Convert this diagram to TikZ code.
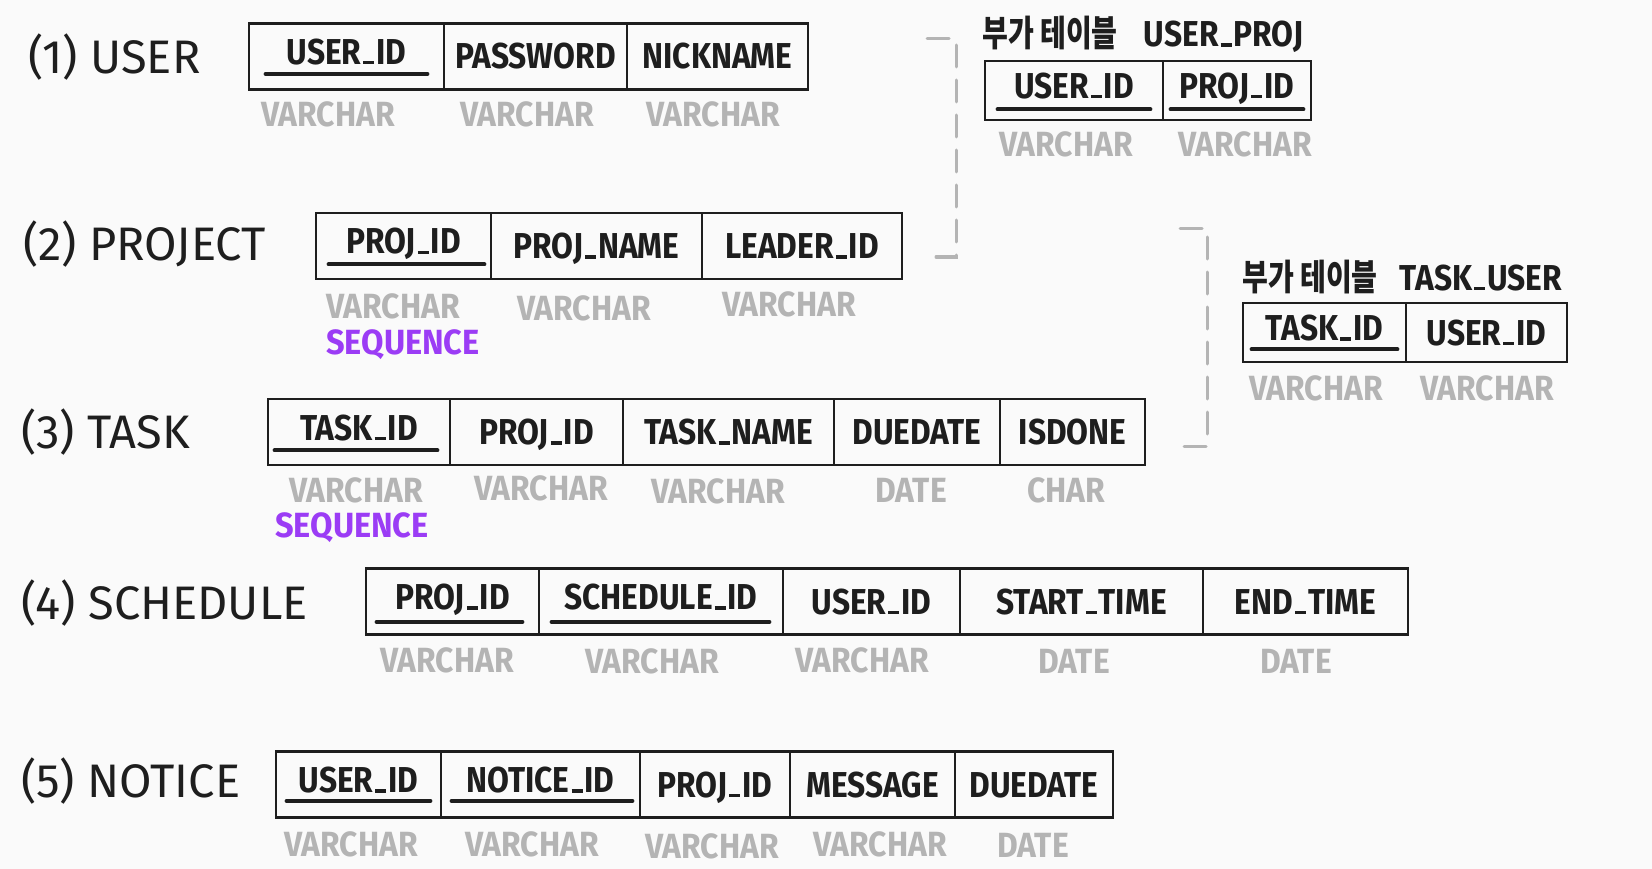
\documentclass[tikz,border=0pt]{standalone}
\usepackage{fontspec}
\usepackage{graphicx}
\setmainfont{Fira Sans}
\newfontfamily\hand[FakeStretch=0.88]{Fira Sans}
\newfontfamily\handt[FakeStretch=0.91]{Fira Sans}
\newfontfamily\hands[FakeStretch=0.93]{Fira Sans}
\newfontfamily\kr[FakeStretch=0.78]{Noto Sans CJK KR}
\definecolor{ink}{RGB}{30,30,30}
\definecolor{lgray}{RGB}{180,180,180}
\definecolor{bgc}{RGB}{250,250,250}
\definecolor{purp}{RGB}{155,60,245}
\newcommand\us{\kern2pt\rule[0pt]{11pt}{3.5pt}\kern2pt}
\begin{document}
\begin{tikzpicture}[x=1pt,y=-1pt,
  fld/.style={draw=ink, line width=2.8pt, minimum width=#1, minimum height=66pt, inner sep=0pt,
    text height=25pt, text depth=0pt, text=ink, font=\hand\bfseries\fontsize{36}{36}\selectfont},
  sfld/.style={fld=#1, minimum height=59pt},
  pk/.style={text depth=9pt},
  typ/.style={text=lgray, inner sep=0pt, text height=24pt, text depth=0pt, font=\handt\bfseries\fontsize{35}{35}\selectfont},
  seq/.style={text=purp, inner sep=0pt, text height=23pt, text depth=0pt, font=\hands\bfseries\fontsize{35}{35}\selectfont},
  head/.style={anchor=base west, inner sep=0pt, text=ink, font=\fontsize{47}{47}\selectfont},
  ttl/.style={anchor=base west, inner sep=0pt, text=ink, font=\hand\bfseries\fontsize{36}{36}\selectfont},
  uline/.style={draw=ink, line width=4pt, line cap=round},
  brk/.style={draw=lgray, line width=3pt, line cap=round, dash pattern=on 22pt off 13pt}]
\fill[bgc] (0,0) rectangle (1652,869);
\useasboundingbox (0,0) rectangle (1652,869);

% (1) USER
\node[head] (h1) at (28,74) {(1) USER};
\node[fld=195, pk] (u1) at (346.5,56.5) {USER\us ID};
\node[fld=183] (u2) at (535.5,56.5) {PASSWORD};
\node[fld=181] (u3) at (717.5,56.5) {NICKNAME};
\draw[uline] ([shift={(18,-17)}]u1.south west) -- ([shift={(-18,-17)}]u1.south east);
\node[typ] (u1t) at (328,115) {VARCHAR};
\node[typ] (u2t) at (527,115) {VARCHAR};
\node[typ] (u3t) at (713,115) {VARCHAR};

% (2) PROJECT
\node[head] (h2) at (23,261) {(2) PROJECT};
\node[fld=175, pk] (p1) at (403.5,246) {PROJ\us ID};
\node[fld=211] (p2) at (596.5,246) {PROJ\us NAME};
\node[fld=200] (p3) at (802,246) {LEADER\us ID};
\draw[uline] ([shift={(14,-16)}]p1.south west) -- ([shift={(-8,-16)}]p1.south east);
\node[typ] (p1t) at (393,306) {VARCHAR};
\node[typ] (p2t) at (584,308) {VARCHAR};
\node[typ] (p3t) at (789,304) {VARCHAR};
\node[seq] (p1s) at (403,343) {SEQUENCE};

% (3) TASK
\node[head] (h3) at (21,448) {(3) TASK};
\node[fld=182, pk] (t1) at (359,432) {TASK\us ID};
\node[fld=173] (t2) at (536.5,432) {PROJ\us ID};
\node[fld=211] (t3) at (728.5,432) {TASK\us NAME};
\node[fld=166] (t4) at (917,432) {DUEDATE};
\node[fld=145] (t5) at (1072.5,432) {ISDONE};
\draw[uline] ([shift={(8,-16)}]t1.south west) -- ([shift={(-14,-16)}]t1.south east);
\node[typ] (t1t) at (356,490) {VARCHAR};
\node[typ] (t2t) at (541,488) {VARCHAR};
\node[typ] (t3t) at (718,491) {VARCHAR};
\node[typ] (t4t) at (911,490) {DATE};
\node[typ] (t5t) at (1066,490) {CHAR};
\node[seq] (t1s) at (352,526) {SEQUENCE};

% (4) SCHEDULE
\node[head] (h4) at (21,619) {(4) SCHEDULE};
\node[fld=173, pk] (s1) at (452.5,601.5) {PROJ\us ID};
\node[fld=244, pk] (s2) at (661,601.5) {SCHEDULE\us ID};
\node[fld=177] (s3) at (871.5,601.5) {USER\us ID};
\node[fld=243] (s4) at (1081.5,601.5) {START\us TIME};
\node[fld=205] (s5) at (1305.5,601.5) {END\us TIME};
\draw[uline] ([shift={(12,-14)}]s1.south west) -- ([shift={(-18,-14)}]s1.south east);
\draw[uline] ([shift={(14,-14)}]s2.south west) -- ([shift={(-15,-14)}]s2.south east);
\node[typ] (s1t) at (447,660) {VARCHAR};
\node[typ] (s2t) at (652,661) {VARCHAR};
\node[typ] (s3t) at (862,660) {VARCHAR};
\node[typ] (s4t) at (1074,661) {DATE};
\node[typ] (s5t) at (1296,661) {DATE};

% (5) NOTICE
\node[head] (h5) at (21,797) {(5) NOTICE};
\node[fld=165, pk] (n1) at (358.5,784.5) {USER\us ID};
\node[fld=199, pk] (n2) at (540.5,784.5) {NOTICE\us ID};
\node[fld=150] (n3) at (715,784.5) {PROJ\us ID};
\node[fld=165] (n4) at (872.5,784.5) {MESSAGE};
\node[fld=158] (n5) at (1034,784.5) {DUEDATE};
\draw[uline] ([shift={(12,-18)}]n1.south west) -- ([shift={(-12,-18)}]n1.south east);
\draw[uline] ([shift={(12,-18)}]n2.south west) -- ([shift={(-9,-18)}]n2.south east);
\node[typ] (n1t) at (351,844) {VARCHAR};
\node[typ] (n2t) at (532,844) {VARCHAR};
\node[typ] (n3t) at (712,846) {VARCHAR};
\node[typ] (n4t) at (880,844) {VARCHAR};
\node[typ] (n5t) at (1033,845) {DATE};

% USER_PROJ
\node[ttl] (a0) at (982,47) {{\kr\bfseries 부가 테이블}\hspace{26pt}USER\us PROJ};
\node[sfld=178, pk] (a1) at (1074,90.5) {USER\us ID};
\node[sfld=148, pk] (a2) at (1237,90.5) {PROJ\us ID};
\draw[uline] ([shift={(14,-12)}]a1.south west) -- ([shift={(-14,-12)}]a1.south east);
\draw[uline] ([shift={(9,-12)}]a2.south west) -- ([shift={(-9,-12)}]a2.south east);
\node[typ] (a1t) at (1066,145) {VARCHAR};
\node[typ] (a2t) at (1245,145) {VARCHAR};
\draw[brk] (927,39) -- (956,39) -- (956,257) -- (929,257);

% TASK_USER
\node[ttl] (b0) at (1242,290) {{\kr\bfseries 부가 테이블}\hspace{22pt}TASK\us USER};
\node[sfld=163, pk] (b1) at (1324.5,332.5) {TASK\us ID};
\node[sfld=161] (b2) at (1486.5,332.5) {USER\us ID};
\draw[uline] ([shift={(10,-14)}]b1.south west) -- ([shift={(-10,-14)}]b1.south east);
\node[typ] (b1t) at (1316,388) {VARCHAR};
\node[typ] (b2t) at (1487,388) {VARCHAR};
\draw[brk] (1180,229) -- (1207,229) -- (1207,446) -- (1182,446);
\end{tikzpicture}
\end{document}
